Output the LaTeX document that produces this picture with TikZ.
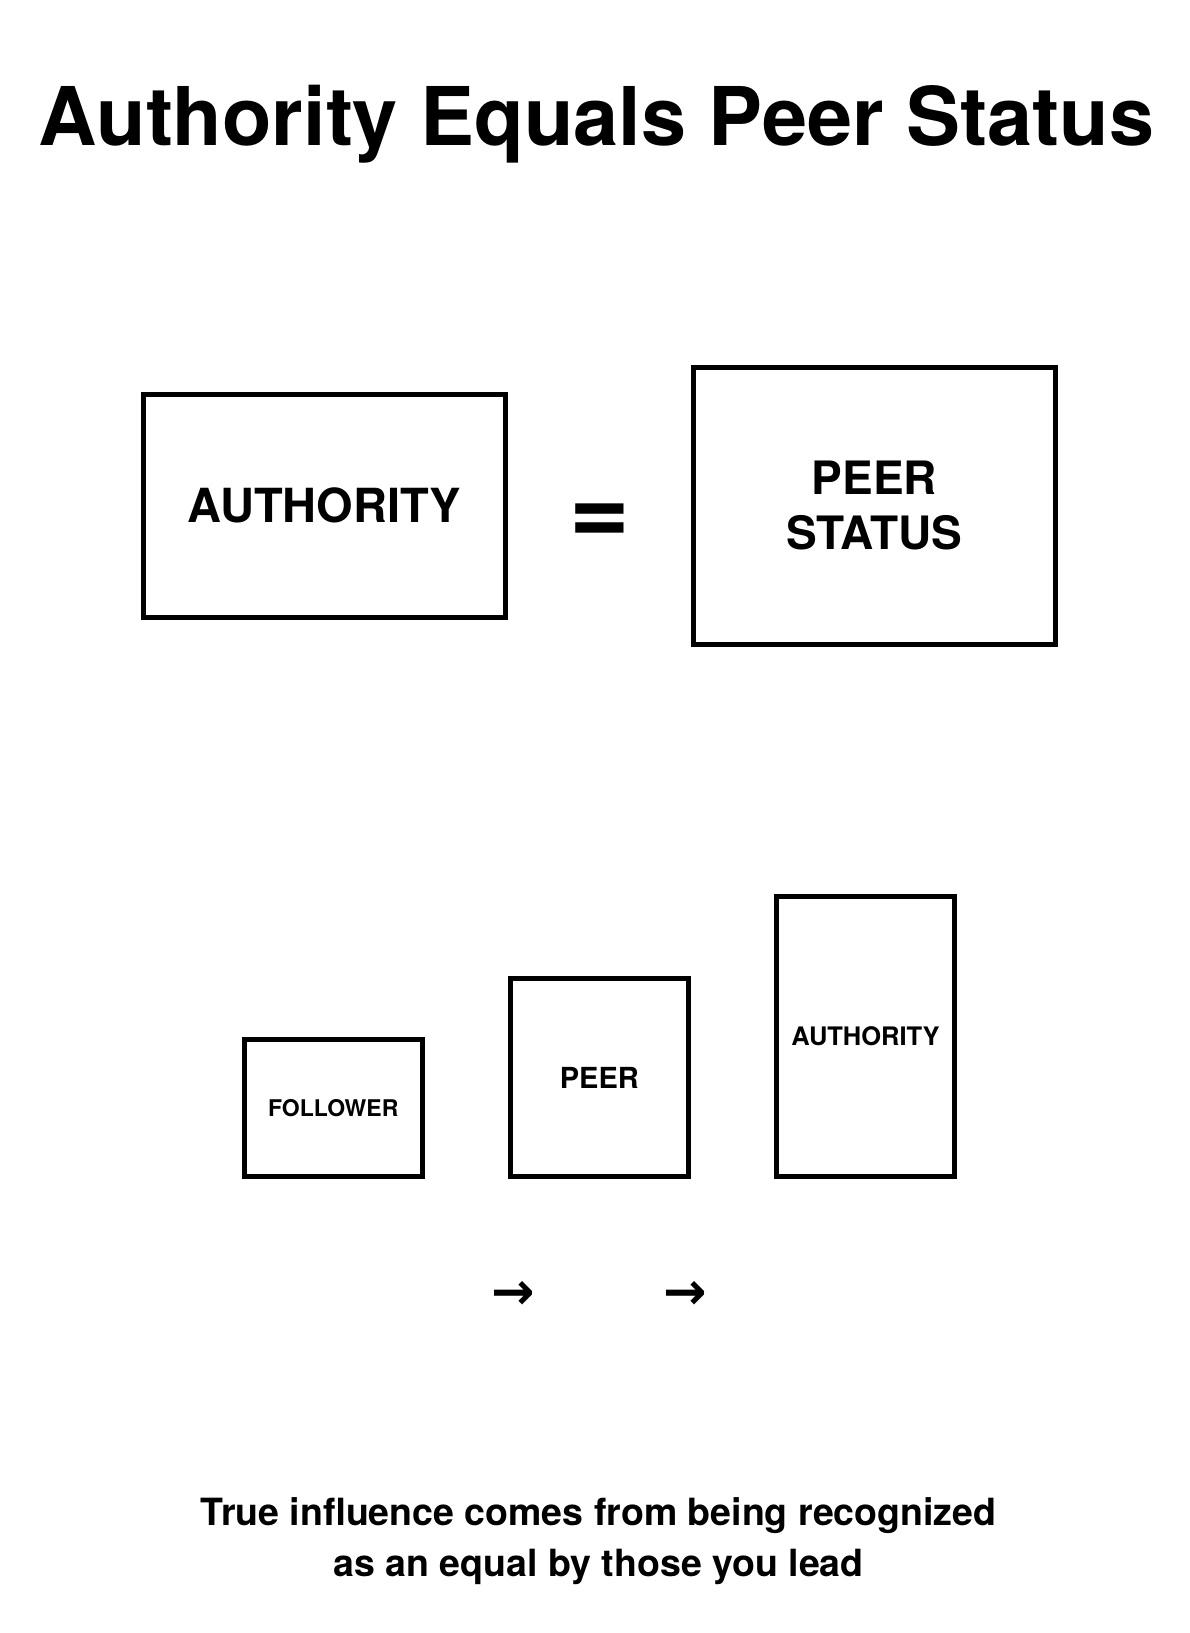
\documentclass[tikz,border=0pt]{standalone}
\usepackage{fontspec}
\setmainfont{TeX Gyre Heros}
\newfontfamily\arrowfont{DejaVu Sans}
\usetikzlibrary{positioning}

\begin{document}
\begin{tikzpicture}[x=1pt, y=-1pt,
  frame/.style={draw, line width=5pt, inner sep=0pt, align=center},
  bigtxt/.style={font=\fontsize{47}{55}\selectfont\bfseries},
  captxt/.style={anchor=base, font=\fontsize{37.5}{51}\selectfont\bfseries},
  steptxt/.style={anchor=base, font=\fontsize{52}{52}\selectfont\arrowfont\bfseries}]

  % --- page ---
  \fill[white] (0,0) rectangle (1189,1633);
  \useasboundingbox (0,0) rectangle (1189,1633);

  % --- title ---
  \node[anchor=base, font=\fontsize{81}{97}\selectfont\bfseries] (title)
    at (596.5,145) {Authority Equals Peer Status};

  % --- authority = peer status ---
  \node[frame, bigtxt, minimum width=362.5pt, minimum height=223.5pt] (auth)
    at (324.3,505.8) {AUTHORITY};
  \node[anchor=base, font=\fontsize{104}{104}\selectfont\bfseries] (eq)
    at (599.5,544) {=};
  \node[frame, font=\fontsize{46}{55}\selectfont\bfseries,
    minimum width=362.5pt, minimum height=277.5pt] (peerstatus)
    at (874.3,505.8) {PEER\\STATUS};

  % --- growing boxes ---
  \node[frame, font=\fontsize{23}{28}\selectfont\bfseries,
    minimum width=178pt, minimum height=137.6pt] (follower)
    at (333.3,1108) {FOLLOWER};
  \node[frame, font=\fontsize{29}{34}\selectfont\bfseries,
    minimum width=178pt, minimum height=198pt] (peer)
    at (599.3,1077.9) {PEER};
  \node[frame, font=\fontsize{25.5}{30}\selectfont\bfseries,
    minimum width=178pt, minimum height=280pt] (leader)
    at (865.5,1036.5) {AUTHORITY};

  % --- arrows below ---
  \node[steptxt] (stepA) at (513.4,1309.5) {→};
  \node[steptxt] (stepB) at (685.5,1309.5) {→};

  % --- caption ---
  \node[captxt] (capA) at (598.6,1525) {True influence comes from being recognized};
  \node[captxt] (capB) at (598.6,1576) {as an equal by those you lead};

\end{tikzpicture}
\end{document}
